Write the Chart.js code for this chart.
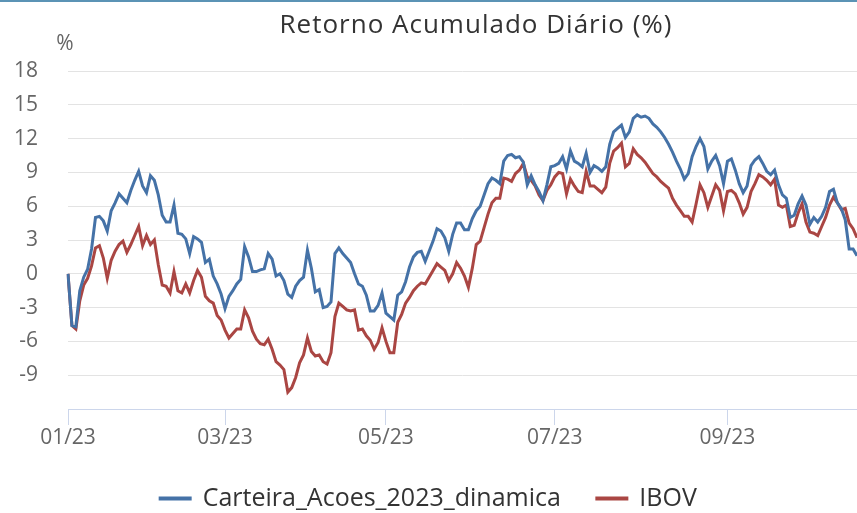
<!DOCTYPE html>
<html>
<head>
<meta charset="utf-8">
<script src="https://cdn.jsdelivr.net/npm/chart.js@4"></script>
<style>
  html, body { margin: 0; padding: 0; background: #fff; }
  #retorno { display: block; }
</style>
</head>
<body>
<canvas id="retorno" width="857" height="513"></canvas>
<script>
// trading days (B3, 2023) per month
const months = ['01', '02', '03', '04', '05', '06', '07', '08', '09', '10'];
const daysByMonth = [
  [2,3,4,5,6,9,10,11,12,13,16,17,18,19,20,23,24,25,26,27,30,31],
  [1,2,3,6,7,8,9,10,13,14,15,16,17,22,23,24,27,28],
  [1,2,3,6,7,8,9,10,13,14,15,16,17,20,21,22,23,24,27,28,29,30,31],
  [3,4,5,6,10,11,12,13,14,17,18,19,20,24,25,26,27,28],
  [2,3,4,5,8,9,10,11,12,15,16,17,18,19,22,23,24,25,26,29,30,31],
  [1,2,5,6,7,9,12,13,14,15,16,19,20,21,22,23,26,27,28,29,30],
  [3,4,5,6,7,10,11,12,13,14,17,18,19,20,21,24,25,26,27,28,31],
  [1,2,3,4,7,8,9,10,11,14,15,16,17,18,21,22,23,24,25,28,29,30,31],
  [1,4,5,6,8,11,12,13,14,15,18,19,20,21,22,25,26,27,28,29],
  [2,3,4,5,6,9,10,11,13,16,17,18,19,20]
];
const tickLabels = ['01/23', '03/23', '05/23', '07/23', '09/23'];

const carteira = [
  0, -4.6, -4.7, -1.5, -0.3, 0.4, 2.2, 5.0, 5.1, 4.7,
  3.8, 5.6, 6.3, 7.1, 6.7, 6.3, 7.4, 8.3, 9.1, 7.8,
  7.2, 8.7, 8.3, 7.0, 5.2, 4.6, 4.6, 6.1, 3.6, 3.5,
  3.1, 1.8, 3.3, 3.1, 2.8, 1.0, 1.3, -0.2, -0.9, -1.8,
  -3.1, -2.0, -1.5, -0.9, -0.5, 2.4, 1.5, 0.2, 0.2, 0.35,
  0.45, 1.8, 1.3, -0.2, 0.0, -0.6, -1.8, -2.1, -1.1, -0.6,
  -0.3, 2.1, 0.5, -1.6, -1.4, -3.0, -2.9, -2.5, 1.8, 2.3,
  1.8, 1.4, 1.0, 0.0, -0.9, -1.1, -1.9, -3.3, -3.3, -2.8,
  -1.7, -3.5, -3.8, -4.1, -1.9, -1.6, -0.7, 0.6, 1.5, 1.9,
  2.0, 1.1, 2.0, 2.9, 4.0, 3.8, 3.2, 2.0, 3.5, 4.5,
  4.5, 3.9, 3.9, 4.9, 5.6, 6.0, 7.0, 8.0, 8.5, 8.3,
  8.0, 10.0, 10.5, 10.6, 10.3, 10.4, 9.9, 7.9, 8.7, 7.9,
  7.3, 6.5, 7.9, 9.5, 9.6, 9.8, 10.4, 9.3, 10.9, 10.0,
  9.8, 9.5, 10.7, 9.0, 9.6, 9.4, 9.1, 9.5, 11.5, 12.6,
  12.9, 13.2, 12.1, 12.6, 13.8, 14.1, 13.9, 14.0, 13.8, 13.3,
  13.0, 12.6, 12.1, 11.5, 10.8, 10.0, 9.3, 8.4, 8.9, 10.4,
  11.3, 12.0, 11.3, 9.3, 10.0, 10.5, 9.6, 8.0, 10.0, 10.2,
  9.2, 8.0, 7.2, 7.8, 9.6, 10.1, 10.4, 9.8, 9.1, 8.8,
  9.2, 7.9, 7.0, 6.7, 5.0, 5.2, 6.2, 6.9, 6.1, 4.4,
  5.0, 4.6, 5.1, 5.9, 7.3, 7.5, 6.3, 5.8, 4.8, 2.2,
  2.2, 1.6
];

const ibov = [
  0, -4.6, -4.9, -2.4, -1.0, -0.4, 0.7, 2.3, 2.5, 1.4,
  -0.4, 1.2, 2.0, 2.6, 2.9, 1.9, 2.6, 3.4, 4.2, 2.5,
  3.4, 2.6, 3.0, 0.8, -1.0, -1.1, -1.7, 0.2, -1.5, -1.7,
  -0.9, -1.7, -0.6, 0.3, -0.3, -2.0, -2.4, -2.6, -3.7, -4.1,
  -5.0, -5.7, -5.3, -4.9, -4.9, -3.2, -3.9, -5.1, -5.8, -6.2,
  -6.3, -5.8, -6.7, -7.8, -8.1, -8.5, -10.5, -10.1, -9.2, -7.9,
  -7.2, -5.7, -6.9, -7.3, -7.2, -7.8, -8.0, -7.0, -3.8, -2.6,
  -2.9, -3.2, -3.3, -3.2, -5.0, -4.9, -5.5, -5.9, -6.7, -6.1,
  -4.8, -6.0, -7.0, -7.0, -4.3, -3.6, -2.6, -2.1, -1.5, -1.1,
  -0.8, -0.9, -0.3, 0.3, 0.9, 0.6, 0.3, -0.6, 0.0, 1.0,
  0.5, -0.2, -1.2, 0.5, 2.6, 2.9, 4.1, 5.3, 6.3, 6.7,
  6.7, 8.5, 8.4, 8.2, 8.9, 9.2, 9.8, 8.6, 8.3, 7.8,
  7.0, 6.5, 7.4, 7.9, 8.6, 9.0, 8.9, 7.1, 8.4, 7.8,
  7.3, 7.2, 9.1, 7.8, 7.8, 7.5, 7.2, 7.7, 9.8, 10.9,
  11.2, 11.6, 9.5, 9.8, 11.1, 10.6, 10.3, 9.9, 9.4, 8.9,
  8.6, 8.2, 7.9, 7.6, 6.7, 6.1, 5.6, 5.1, 5.1, 4.6,
  6.2, 7.9, 7.2, 5.9, 6.9, 7.9, 7.4, 5.6, 7.3, 7.4,
  7.1, 6.3, 5.3, 5.9, 7.3, 8.0, 8.8, 8.6, 8.3, 7.9,
  8.4, 6.1, 5.9, 6.1, 4.2, 4.3, 5.4, 6.2, 4.6, 3.7,
  3.6, 3.4, 4.2, 5.0, 6.1, 6.8, 6.3, 5.7, 5.8, 4.5,
  4.0, 3.2
];

const blue = '#4572A7';
const red = '#AA4643';
const fontFamily = '"Open Sans", "Noto Sans", sans-serif';

// category labels and which ones get a tick
const dates = [];
const tickAt = {};
months.forEach((m, mi) => {
  daysByMonth[mi].forEach((d, di) => {
    if (di === 0 && tickLabels.includes(m + '/23')) tickAt[dates.length] = m + '/23';
    dates.push('2023-' + m + '-' + String(d).padStart(2, '0'));
  });
});

Chart.defaults.font.family = fontFamily;

const frame = {
  id: 'frame',
  beforeDraw(chart) {
    const c = chart.ctx;
    c.save();
    c.fillStyle = '#fff';
    c.fillRect(0, 0, chart.width, chart.height);
    c.fillStyle = '#5b93b5';
    c.fillRect(0, 0, chart.width, 2);
    c.restore();
  },
  afterDraw(chart) {
    const c = chart.ctx;
    c.save();
    c.textBaseline = 'middle';
    c.textAlign = 'center';
    c.fillStyle = '#333';
    c.font = '26px ' + fontFamily;
    if ('letterSpacing' in c) c.letterSpacing = '1px';
    c.fillText('Retorno Acumulado Diário (%)', 476, 26);
    if ('letterSpacing' in c) c.letterSpacing = '0px';
    c.fillStyle = '#666';
    c.font = '21px ' + fontFamily;
    c.fillText('%', 65, 44);
    c.restore();
  }
};

new Chart(document.getElementById('retorno'), {
  type: 'line',
  data: {
    labels: dates,
    datasets: [
      {
        label: 'Carteira_Acoes_2023_dinamica',
        data: carteira,
        borderColor: blue,
        backgroundColor: blue,
        borderWidth: 3,
        pointRadius: 0,
        tension: 0,
        fill: false
      },
      {
        label: 'IBOV',
        data: ibov,
        borderColor: red,
        backgroundColor: red,
        borderWidth: 3,
        pointRadius: 0,
        tension: 0,
        fill: false
      }
    ]
  },
  options: {
    responsive: false,
    animation: false,
    devicePixelRatio: 1,
    layout: { padding: { top: 71, left: 0, right: 0, bottom: -8 } },
    plugins: {
      title: { display: false },
      tooltip: { enabled: false },
      legend: {
        position: 'bottom',
        labels: {
          boxWidth: 30,
          boxHeight: 1,
          padding: 36,
          color: '#333',
          font: { size: 25 }
        }
      }
    },
    scales: {
      x: {
        grid: { drawOnChartArea: false, drawTicks: true, tickLength: 16, color: '#ccd6eb' },
        border: { color: '#ccd6eb', width: 1 },
        ticks: {
          autoSkip: false,
          maxRotation: 0,
          padding: 0,
          color: '#666',
          font: { size: 21 },
          callback: (v, i) => (tickAt[i] !== undefined ? tickAt[i] : null)
        },
        afterFit: s => { s.height = 41; }
      },
      y: {
        min: -12,
        max: 18,
        grid: { color: '#e3e3e3', drawTicks: true, tickLength: 27, tickColor: 'rgba(0,0,0,0)' },
        border: { display: false },
        ticks: {
          stepSize: 3,
          padding: 3,
          color: '#666',
          font: { size: 21 },
          callback: v => (v === -12 ? '' : v)
        },
        afterFit: s => { s.width = 68; }
      }
    }
  },
  plugins: [frame]
});
</script>
</body>
</html>
